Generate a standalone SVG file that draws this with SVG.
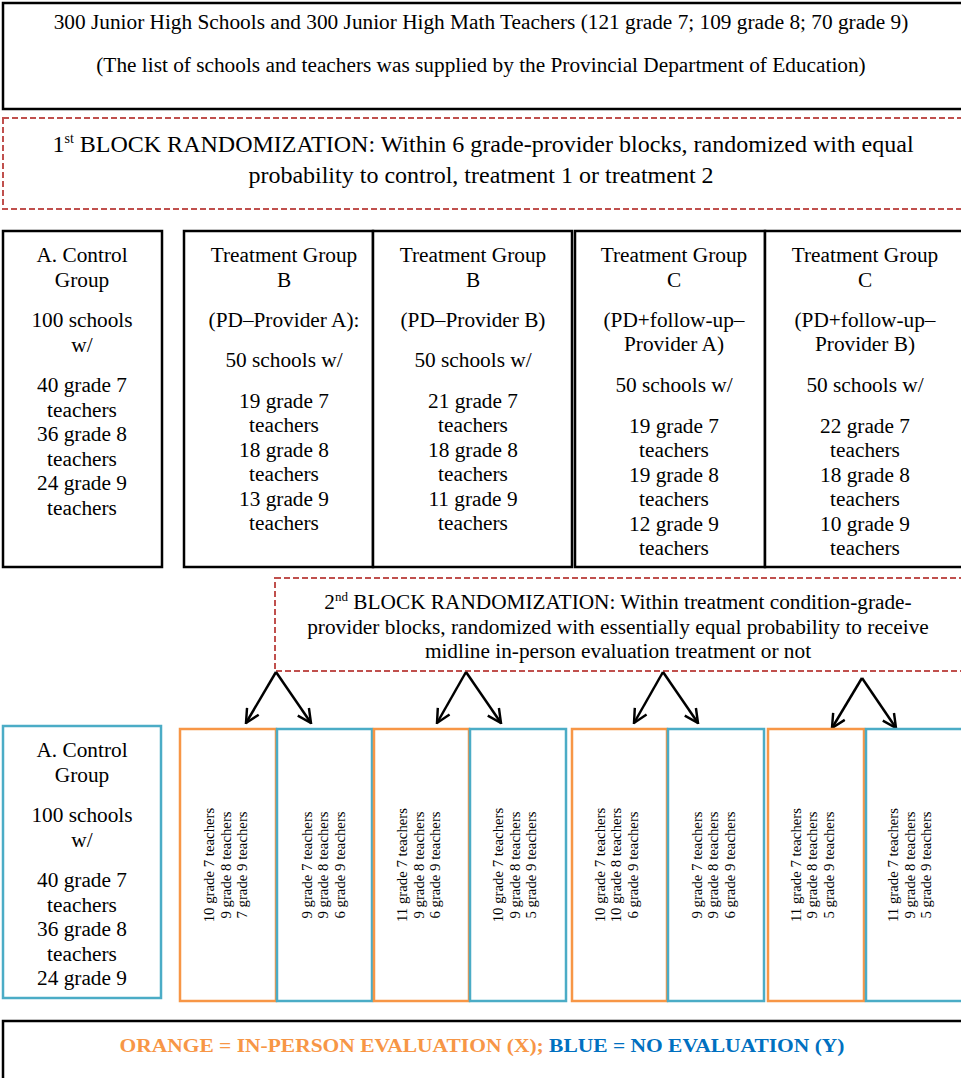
<svg xmlns="http://www.w3.org/2000/svg" width="961" height="1078" viewBox="0 0 961 1078">
<style>
text{font-family:"Liberation Serif","Times New Roman",serif;fill:#000}
.blk{fill:#fff;stroke:#000;stroke-width:2.5}
.dash{fill:#fff;stroke:#C0504D;stroke-width:2;stroke-dasharray:6 3}
.org{fill:#fff;stroke:#F79646;stroke-width:2.5}
.blu{fill:#fff;stroke:#4BACC6;stroke-width:2.5}
.t17{font-size:21.3px;text-anchor:middle}
.t21{font-size:24px;text-anchor:middle}
.t20{font-size:21.3px;text-anchor:middle}
.t19{font-size:21.3px;text-anchor:middle}
.rot{font-size:14.8px;text-anchor:middle}
.conn line{stroke:#000;stroke-width:2.5;marker-end:url(#arr)}
</style>
<defs>
<marker id="arr" viewBox="0 0 12 12" refX="11" refY="6" markerWidth="6.5" markerHeight="6.5" orient="auto" markerUnits="strokeWidth">
<path d="M1,1 L11,6 L1,11" fill="none" stroke="#000" stroke-width="1.8"/>
</marker>
</defs>
<rect width="961" height="1078" fill="#fff"/>

<g id="top">
<rect class="blk" x="3" y="3" width="965" height="106"/>
<text class="t17" x="481" y="29">300 Junior High Schools and 300 Junior High Math Teachers (121 grade 7; 109 grade 8; 70 grade 9)</text>
<text class="t17" x="481" y="72">(The list of schools and teachers was supplied by the Provincial Department of Education)</text>
</g>

<g id="rand1">
<rect class="dash" x="3" y="118" width="965" height="91"/>
<text class="t21" x="483" y="152">1<tspan font-size="14" dy="-9">st</tspan><tspan dy="9"> BLOCK RANDOMIZATION: Within 6 grade-provider blocks, randomized with equal</tspan></text>
<text class="t21" x="481" y="183">probability to control, treatment 1 or treatment 2</text>
</g>

<g id="controlA">
<rect class="blk" x="3" y="231" width="159" height="336"/>
<text class="t20" x="82" y="262">A. Control</text>
<text class="t20" x="82" y="287">Group</text>
<text class="t20" x="82" y="327">100 schools</text>
<text class="t20" x="82" y="352">w/</text>
<text class="t20" x="82" y="392">40 grade 7</text>
<text class="t20" x="82" y="417">teachers</text>
<text class="t20" x="82" y="441">36 grade 8</text>
<text class="t20" x="82" y="466">teachers</text>
<text class="t20" x="82" y="490">24 grade 9</text>
<text class="t20" x="82" y="515">teachers</text>
</g>

<g id="treatB1">
<rect class="blk" x="184" y="231" width="189" height="336"/>
<text class="t20" x="284" y="262">Treatment Group</text>
<text class="t20" x="284" y="287">B</text>
<text class="t20" x="284" y="327">(PD–Provider A):</text>
<text class="t20" x="284" y="367">50 schools w/</text>
<text class="t20" x="284" y="408">19 grade 7</text>
<text class="t20" x="284" y="432">teachers</text>
<text class="t20" x="284" y="457">18 grade 8</text>
<text class="t20" x="284" y="481">teachers</text>
<text class="t20" x="284" y="506">13 grade 9</text>
<text class="t20" x="284" y="530">teachers</text>
</g>

<g id="treatB2">
<rect class="blk" x="373" y="231" width="199" height="336"/>
<text class="t20" x="473" y="262">Treatment Group</text>
<text class="t20" x="473" y="287">B</text>
<text class="t20" x="473" y="327">(PD–Provider B)</text>
<text class="t20" x="473" y="367">50 schools w/</text>
<text class="t20" x="473" y="408">21 grade 7</text>
<text class="t20" x="473" y="432">teachers</text>
<text class="t20" x="473" y="457">18 grade 8</text>
<text class="t20" x="473" y="481">teachers</text>
<text class="t20" x="473" y="506">11 grade 9</text>
<text class="t20" x="473" y="530">teachers</text>
</g>

<g id="treatC1">
<rect class="blk" x="575" y="231" width="190" height="336"/>
<text class="t20" x="674" y="262">Treatment Group</text>
<text class="t20" x="674" y="287">C</text>
<text class="t20" x="674" y="327">(PD+follow-up–</text>
<text class="t20" x="674" y="351">Provider A)</text>
<text class="t20" x="674" y="392">50 schools w/</text>
<text class="t20" x="674" y="433">19 grade 7</text>
<text class="t20" x="674" y="457">teachers</text>
<text class="t20" x="674" y="482">19 grade 8</text>
<text class="t20" x="674" y="506">teachers</text>
<text class="t20" x="674" y="531">12 grade 9</text>
<text class="t20" x="674" y="555">teachers</text>
</g>

<g id="treatC2">
<rect class="blk" x="765" y="231" width="205" height="336"/>
<text class="t20" x="865" y="262">Treatment Group</text>
<text class="t20" x="865" y="287">C</text>
<text class="t20" x="865" y="327">(PD+follow-up–</text>
<text class="t20" x="865" y="351">Provider B)</text>
<text class="t20" x="865" y="392">50 schools w/</text>
<text class="t20" x="865" y="433">22 grade 7</text>
<text class="t20" x="865" y="457">teachers</text>
<text class="t20" x="865" y="482">18 grade 8</text>
<text class="t20" x="865" y="506">teachers</text>
<text class="t20" x="865" y="531">10 grade 9</text>
<text class="t20" x="865" y="555">teachers</text>
</g>

<g id="rand2">
<rect class="dash" x="275" y="578" width="695" height="93"/>
<text class="t19" x="618" y="609">2<tspan font-size="13" dy="-8">nd</tspan><tspan dy="8"> BLOCK RANDOMIZATION: Within treatment condition-grade-</tspan></text>
<text class="t19" x="618" y="634">provider blocks, randomized with essentially equal probability to receive</text>
<text class="t19" x="618" y="658">midline in-person evaluation treatment or not</text>
</g>

<g id="connectors" class="conn">
<line x1="276" y1="672" x2="246" y2="723"/>
<line x1="276" y1="672" x2="311" y2="723"/>
<line x1="466" y1="672" x2="437" y2="723"/>
<line x1="466" y1="672" x2="501" y2="723"/>
<line x1="663" y1="672" x2="634" y2="723"/>
<line x1="663" y1="672" x2="698" y2="723"/>
<line x1="862" y1="678" x2="832" y2="728"/>
<line x1="862" y1="678" x2="896" y2="728"/>
</g>

<g id="controlA2">
<rect class="blu" x="3" y="726" width="158" height="272"/>
<text class="t20" x="82" y="757">A. Control</text>
<text class="t20" x="82" y="782">Group</text>
<text class="t20" x="82" y="822">100 schools</text>
<text class="t20" x="82" y="847">w/</text>
<text class="t20" x="82" y="887">40 grade 7</text>
<text class="t20" x="82" y="912">teachers</text>
<text class="t20" x="82" y="936">36 grade 8</text>
<text class="t20" x="82" y="961">teachers</text>
<text class="t20" x="82" y="985">24 grade 9</text>
</g>

<g id="orangeB1">
<rect class="org" x="180" y="729" width="96" height="272"/>
<text class="rot" transform="translate(214,865) rotate(-90)">10 grade 7 teachers</text>
<text class="rot" transform="translate(230.5,865) rotate(-90)">9 grade 8 teachers</text>
<text class="rot" transform="translate(247,865) rotate(-90)">7 grade 9 teachers</text>
</g>
<g id="blueB1">
<rect class="blu" x="277" y="729" width="95" height="272"/>
<text class="rot" transform="translate(311.5,865) rotate(-90)">9 grade 7 teachers</text>
<text class="rot" transform="translate(328,865) rotate(-90)">9 grade 8 teachers</text>
<text class="rot" transform="translate(344.5,865) rotate(-90)">6 grade 9 teachers</text>
</g>
<g id="orangeB2">
<rect class="org" x="374" y="729" width="95" height="272"/>
<text class="rot" transform="translate(407,865) rotate(-90)">11 grade 7 teachers</text>
<text class="rot" transform="translate(423.5,865) rotate(-90)">9 grade 8 teachers</text>
<text class="rot" transform="translate(440,865) rotate(-90)">6 grade 9 teachers</text>
</g>
<g id="blueB2">
<rect class="blu" x="470" y="729" width="96" height="272"/>
<text class="rot" transform="translate(503,865) rotate(-90)">10 grade 7 teachers</text>
<text class="rot" transform="translate(519.5,865) rotate(-90)">9 grade 8 teachers</text>
<text class="rot" transform="translate(536,865) rotate(-90)">5 grade 9 teachers</text>
</g>
<g id="orangeC1">
<rect class="org" x="572" y="729" width="95" height="272"/>
<text class="rot" transform="translate(604.5,865) rotate(-90)">10 grade 7 teachers</text>
<text class="rot" transform="translate(621,865) rotate(-90)">10 grade 8 teachers</text>
<text class="rot" transform="translate(637.5,865) rotate(-90)">6 grade 9 teachers</text>
</g>
<g id="blueC1">
<rect class="blu" x="668" y="729" width="96" height="272"/>
<text class="rot" transform="translate(701.5,865) rotate(-90)">9 grade 7 teachers</text>
<text class="rot" transform="translate(718,865) rotate(-90)">9 grade 8 teachers</text>
<text class="rot" transform="translate(734.5,865) rotate(-90)">6 grade 9 teachers</text>
</g>
<g id="orangeC2">
<rect class="org" x="768" y="729" width="96" height="272"/>
<text class="rot" transform="translate(800.5,865) rotate(-90)">11 grade 7 teachers</text>
<text class="rot" transform="translate(817,865) rotate(-90)">9 grade 8 teachers</text>
<text class="rot" transform="translate(833.5,865) rotate(-90)">5 grade 9 teachers</text>
</g>
<g id="blueC2">
<rect class="blu" x="866" y="729" width="100" height="272"/>
<text class="rot" transform="translate(898,865) rotate(-90)">11 grade 7 teachers</text>
<text class="rot" transform="translate(914.5,865) rotate(-90)">9 grade 8 teachers</text>
<text class="rot" transform="translate(931,865) rotate(-90)">5 grade 9 teachers</text>
</g>

<g id="legend">
<rect class="blk" x="3" y="1021" width="965" height="70"/>
<text x="482" y="1052" font-size="18" font-weight="bold" text-anchor="middle" textLength="725" lengthAdjust="spacingAndGlyphs"><tspan fill="#F79646">ORANGE = IN-PERSON EVALUATION (X); </tspan><tspan fill="#0070C0">BLUE = NO EVALUATION (Y)</tspan></text>
</g>
</svg>
